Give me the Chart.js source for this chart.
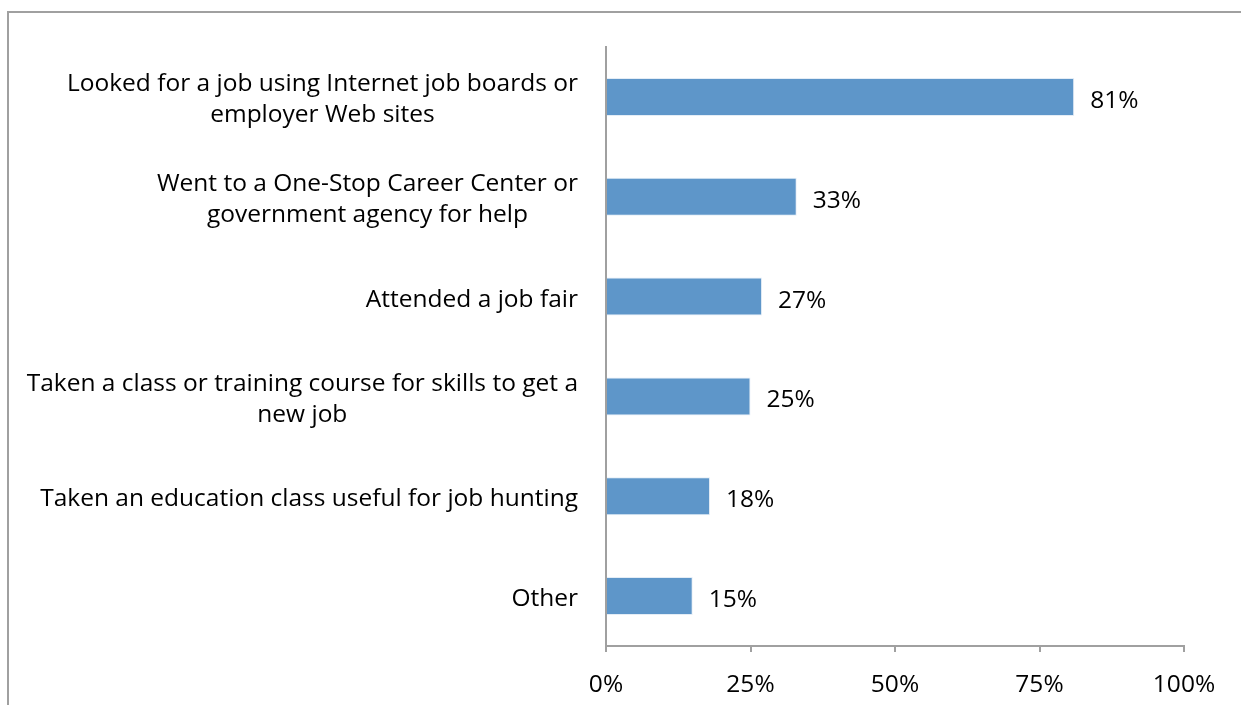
<!DOCTYPE html>
<html>
<head>
<meta charset="utf-8">
<script src="https://cdn.jsdelivr.net/npm/chart.js@4"></script>
<style>
  html, body { margin: 0; padding: 0; background: #fff; overflow: hidden; }
  #frame {
    position: absolute; left: 7px; top: 11px; width: 1300px; height: 800px;
    border: 2px solid #A0A0A0;
  }
  #wrap { position: absolute; left: 0; top: 0; width: 1241px; height: 705px; }
</style>
</head>
<body>
<div id="frame"></div>
<div id="wrap"><canvas id="barChart" width="1241" height="705"></canvas></div>
<script>
const categories = [
  ["Looked for a job using Internet job boards or", "employer Web sites"],
  ["Went to a One-Stop Career Center or", "government agency for help"],
  ["Attended a job fair"],
  ["Taken a class or training course for skills to get a", "new job"],
  ["Taken an education class useful for job hunting"],
  ["Other"]
];
const shares = [81, 33, 27, 25, 18, 15];
const xTicks = [0, 25, 50, 75, 100];

const FONT = '"Open Sans", sans-serif';
const FONT_SIZE = 24.5;

// category labels: each line centred on its own block, block right-aligned
const catLabels = {
  id: "catLabels",
  afterDraw(chart) {
    const { ctx, chartArea, scales } = chart;
    ctx.save();
    ctx.font = FONT_SIZE + "px " + FONT;
    ctx.fillStyle = "#000";
    ctx.textAlign = "center";
    ctx.textBaseline = "middle";
    const right = chartArea.left - 28;
    const lh = 31;
    categories.forEach((lines, i) => {
      const y = scales.y.getPixelForValue(i) + 3;
      const w = Math.max(...lines.map(l => ctx.measureText(l).width));
      const cx = right - w / 2;
      lines.forEach((l, j) => {
        ctx.fillText(l, cx, y + (j - (lines.length - 1) / 2) * lh);
      });
    });
    ctx.restore();
  }
};

// value labels at bar ends
const valueLabels = {
  id: "valueLabels",
  afterDatasetsDraw(chart) {
    const { ctx } = chart;
    ctx.save();
    ctx.font = FONT_SIZE + "px " + FONT;
    ctx.fillStyle = "#000";
    ctx.textAlign = "left";
    ctx.textBaseline = "middle";
    chart.getDatasetMeta(0).data.forEach((bar, i) => {
      ctx.fillText(shares[i] + "%", bar.x + 16, bar.y + 4);
    });
    ctx.restore();
  }
};

new Chart(document.getElementById("barChart"), {
  type: "bar",
  data: {
    labels: categories.map(c => c.join(" ")),
    datasets: [{
      data: shares,
      backgroundColor: "#5E96C9",
      borderColor: "rgba(225,235,245,0.9)",
      borderWidth: 1,
      barPercentage: 0.38,
      categoryPercentage: 1.0
    }]
  },
  options: {
    indexAxis: "y",
    responsive: false,
    animation: false,
    layout: { padding: { top: 47, right: 57, bottom: 0, left: 0 } },
    scales: {
      x: {
        min: 0,
        max: 100,
        afterBuildTicks: (scale) => { scale.ticks = xTicks.map(v => ({ value: v })); },
        afterFit: (scale) => { scale.height = 59; },
        grid: { display: true, drawOnChartArea: false, drawTicks: true, tickLength: 6, color: "#A0A0A0", lineWidth: 2 },
        border: { display: true, color: "#A0A0A0", width: 2 },
        ticks: {
          color: "#000",
          padding: 18,
          font: { family: FONT, size: FONT_SIZE },
          callback: (v) => v + "%"
        }
      },
      y: {
        afterFit: (scale) => { scale.width = 606; },
        grid: { display: true, drawOnChartArea: false, drawTicks: false },
        border: { display: true, color: "#A0A0A0", width: 2 },
        ticks: { display: false }
      }
    },
    plugins: {
      legend: { display: false },
      tooltip: { enabled: false }
    }
  },
  plugins: [catLabels, valueLabels]
});
</script>
</body>
</html>
